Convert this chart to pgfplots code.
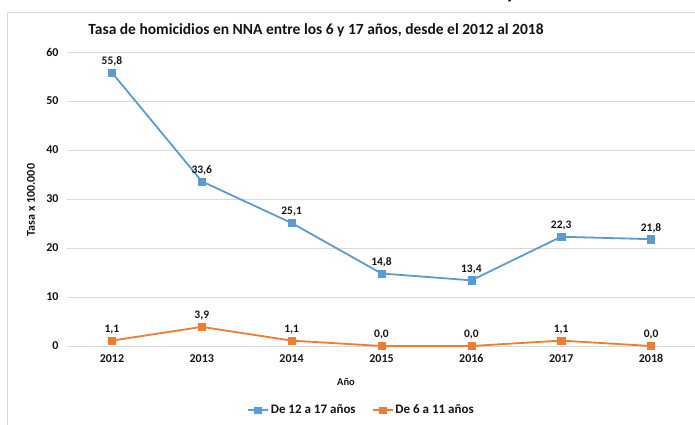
\documentclass[border=0pt]{standalone}
\usepackage{fontspec}
\setmainfont{Carlito}
\usepackage{pgfplots}
\pgfplotsset{compat=1.18}
\definecolor{cblue}{RGB}{91,155,213}
\definecolor{corange}{RGB}{237,125,49}
\definecolor{cgrid}{RGB}{217,217,217}
\definecolor{ctext}{RGB}{20,20,20}
\begin{document}
\begin{tikzpicture}
\useasboundingbox (0pt,0pt) rectangle (695pt,425pt);
\draw[cgrid, line width=0.8pt] (7.5pt,0pt) -- (7.5pt,412.5pt) -- (700pt,412.5pt);
\node[font=\bfseries\fontsize{22}{22}\selectfont, text=ctext, anchor=base] at (511pt,426pt) {y};
\node[font=\bfseries\fontsize{15.5}{17}\selectfont, text=ctext] at (316pt,395pt) {Tasa de homicidios en NNA entre los 6 y 17 años, desde el 2012 al 2018};
\node[font=\bfseries\fontsize{12}{14}\selectfont, text=ctext, rotate=90] at (31pt,225pt) {Tasa x 100.000};
\node[font=\bfseries\fontsize{10.5}{12}\selectfont, text=ctext] at (346pt,43pt) {Año};
\begin{axis}[
  at={(67pt,79pt)}, anchor=south west, scale only axis,
  width=629pt, height=294pt,
  xmin=-0.5, xmax=6.5, ymin=0, ymax=60,
  ytick={0,10,...,60}, xtick={0,...,6},
  xticklabels={2012,2013,2014,2015,2016,2017,2018},
  axis line style={draw=none}, tick style={draw=none},
  ymajorgrids, grid style={cgrid, line width=0.9pt},
  /pgf/number format/assume math mode=true,
  ticklabel style={font=\bfseries\fontsize{12}{14}\selectfont, text=ctext},
  yticklabel style={xshift=-5pt},
  xticklabel style={yshift=-5pt},
  clip=false,
  nodes near coords,
  every node near coord/.append style={font=\bfseries\fontsize{11.5}{13}\selectfont, text=ctext, yshift=3pt,
    /pgf/number format/.cd, fixed, fixed zerofill, precision=1, use comma, assume math mode=true},
  legend style={at={(0.468,-0.218)}, anchor=center, draw=none, legend columns=2,
    font=\bfseries\fontsize{13}{15}\selectfont, text=ctext,
    /tikz/every even column/.append style={column sep=14pt}},
  legend image code/.code={
    \draw[#1, mark=none] (0pt,0pt) -- (20pt,0pt);
    \draw[#1, only marks, mark size=3.3pt] plot coordinates {(10pt,0pt)};
  },
]
\addplot[color=cblue, line width=1.8pt, mark=square*, mark size=3.6pt, mark options={solid, fill=cblue, line width=0.5pt}]
  coordinates {(0,55.8) (1,33.6) (2,25.1) (3,14.8) (4,13.4) (5,22.3) (6,21.8)};
\addlegendentry{De 12 a 17 años}
\addplot[color=corange, line width=1.8pt, mark=square*, mark size=3.6pt, mark options={solid, fill=corange, line width=0.5pt}]
  coordinates {(0,1.1) (1,3.9) (2,1.1) (3,0.0) (4,0.0) (5,1.1) (6,0.0)};
\addlegendentry{De 6 a 11 años}
\end{axis}
\end{tikzpicture}
\end{document}
